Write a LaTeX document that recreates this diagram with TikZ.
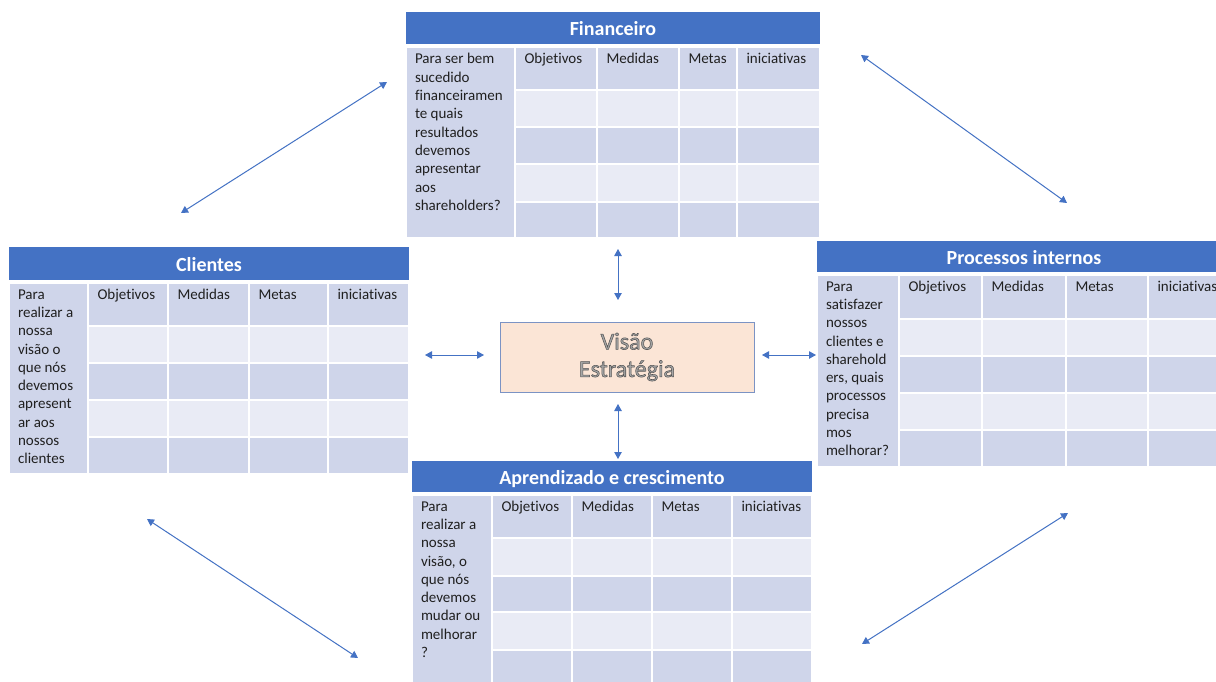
\documentclass[tikz,border=0pt]{standalone}
\usepackage{fontspec}
\setmainfont{Carlito}[Ligatures=NoCommon]
\usetikzlibrary{arrows.meta}
\definecolor{hdrblue}{HTML}{4472C4}
\definecolor{celldark}{HTML}{CFD5EA}
\definecolor{celllight}{HTML}{E9EBF5}
\definecolor{peach}{HTML}{FBE5D6}
\definecolor{visedge}{HTML}{7B93C4}
\definecolor{visfill}{HTML}{A6A6A6}
\definecolor{bodytext}{HTML}{202020}

\def\bscxs#1,#2,#3,#4,#5,#6\relax{\def\xA{#1}\def\xB{#2}\def\xC{#3}\def\xD{#4}\def\xE{#5}\def\xF{#6}}
\def\bscys#1,#2,#3,#4,#5,#6\relax{\def\yA{#1}\def\yB{#2}\def\yC{#3}\def\yD{#4}\def\yE{#5}\def\yF{#6}}

\newcommand\outltxt[1]{\special{pdf:literal direct 2 Tr 0.55 w 0.33 0.33 0.33 RG}#1\special{pdf:literal direct 0 Tr}}

% name, title, header top, column xs, row ys, question
\newcommand\bsctable[6]{%
  \bscxs#4\relax\bscys#5\relax
  \pgfmathsetmacro\bscw{\xF-\xA}%
  \pgfmathsetmacro\bsch{\yA-3-#3}%
  \node[hdr, minimum width=\bscw pt, minimum height=\bsch pt] (#1-h) at (\xA,#3) {#2};
  \pgfmathsetmacro\bscqw{\xB-\xA}%
  \pgfmathsetmacro\bscqh{\yF-\yA}%
  \node[cell, fill=celldark, minimum width=\bscqw pt, minimum height=\bscqh pt] (#1-q) at (\xA,\yA) {};
  \foreach \xl/\xr [count=\ci] in {\xB/\xC,\xC/\xD,\xD/\xE,\xE/\xF}{
    \foreach \yt/\yb/\cc [count=\ri] in {\yA/\yB/celldark,\yB/\yC/celllight,\yC/\yD/celldark,\yD/\yE/celllight,\yE/\yF/celldark}{
      \pgfmathsetmacro\cw{\xr-\xl}%
      \pgfmathsetmacro\ch{\yb-\yt}%
      \node[cell, fill=\cc, minimum width=\cw pt, minimum height=\ch pt] (#1-\ri-\ci) at (\xl,\yt) {};
    }
  }
  \foreach \lab [count=\ci] in {Objetivos,Medidas,Metas,iniciativas}
    \node[txt] (#1-l\ci) at ([shift={(9.5,6.5)}]#1-1-\ci.north west) {\lab};
  \node[txt] (#1-qt) at ([shift={(9,6.5)}]#1-q.north west) {#6};
}

\tikzset{
  hdr/.style={anchor=north west, fill=hdrblue, inner sep=0pt, outer sep=0pt,
    text=white, font=\fontsize{20}{24}\selectfont\bfseries,
    text height=15pt, text depth=0pt},
  cell/.style={anchor=north west, draw=white, line width=2pt, inner sep=0pt, outer sep=0pt},
  txt/.style={anchor=north west, inner sep=0pt, outer sep=0pt, align=left,
    text=bodytext, font=\fontsize{15}{18.3}\selectfont},
  visbox/.style={draw=visedge, line width=0.9pt, fill=peach, inner sep=0pt,
    minimum width=254pt, minimum height=70pt, align=center, text=visfill,
    font=\fontsize{24}{27.5}\selectfont},
  link/.style={draw=hdrblue, line width=1pt,
    {Triangle[length=7pt,width=7.5pt]}-{Triangle[length=7pt,width=7.5pt]}},
}

\begin{document}
\begin{tikzpicture}[x=1pt,y=-1pt]
  \useasboundingbox (0,0) rectangle (1216,682);
  \fill[white] (0,0) rectangle (1216,682);

  \bsctable{fin}{Financeiro}{12}{406,515,597,679,737,820}{47,90,127,164,202,238}%
    {Para ser bem\\sucedido\\financeiramen\\te quais\\resultados\\devemos\\apresentar\\aos\\shareholders?}
  \bsctable{cli}{Clientes}{247}{9,88,168,249,328,409}{283,326,363,400,437,474}%
    {Para\\realizar a\\nossa\\visão o\\que nós\\devemos\\apresent\\ar aos\\nossos\\clientes}
  \bsctable{pro}{Processos internos}{241}{817,899,982,1066,1148,1231}{275,319,356,393,430,467}%
    {Para\\satisfazer\\nossos\\clientes e\\sharehold\\ers, quais\\processos\\precisa\\mos\\melhorar?}
  \bsctable{apr}{Aprendizado e crescimento}{461}{412,492,572,652,732,812}{495,538,576,612,650,687}%
    {Para\\realizar a\\nossa\\visão, o\\que nós\\devemos\\mudar ou\\melhorar\\?}

  \node[visbox] (vis) at (627,357) {\outltxt{Visão}\\\outltxt{Estratégia}};

  % connectors
  \coordinate (vt1) at (618,249); \coordinate (vt2) at (618,300);
  \coordinate (hl1) at (425,355); \coordinate (hl2) at (484,355);
  \coordinate (hr1) at (762,355); \coordinate (hr2) at (816,355);
  \coordinate (vb1) at (618,404); \coordinate (vb2) at (618,459);
  \coordinate (d1) at (387,82);   \coordinate (d2) at (181,213);
  \coordinate (d3) at (861,55);   \coordinate (d4) at (1067,203);
  \coordinate (d5) at (147,519);  \coordinate (d6) at (358,658);
  \coordinate (d7) at (1068,513); \coordinate (d8) at (862,644);

  \draw[link] (vt1) -- (vt2);
  \draw[link] (hl1) -- (hl2);
  \draw[link] (hr1) -- (hr2);
  \draw[link] (vb1) -- (vb2);
  \draw[link] (d1) -- (d2);
  \draw[link] (d3) -- (d4);
  \draw[link] (d5) -- (d6);
  \draw[link] (d7) -- (d8);
\end{tikzpicture}
\end{document}
